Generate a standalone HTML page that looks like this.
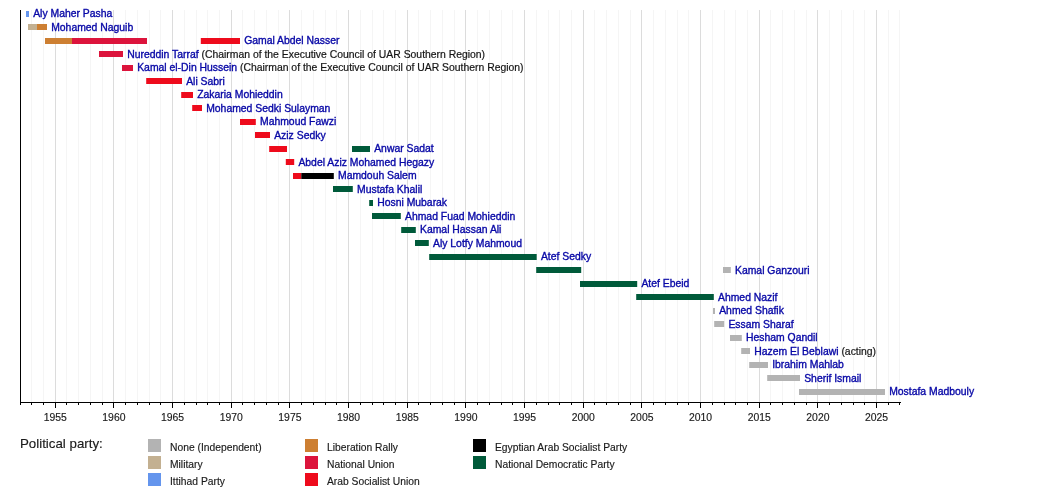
<!DOCTYPE html><html><head><meta charset="utf-8"><style>html,body{margin:0;padding:0;background:#fff;width:1050px;height:492px;overflow:hidden}svg{display:block;will-change:transform}text{font-family:"Liberation Sans",sans-serif}</style></head><body>
<svg width="1050" height="492" viewBox="0 0 1050 492">
<line x1="20.5" y1="10" x2="20.5" y2="402" stroke="#f5f5f5"/>
<line x1="31.5" y1="10" x2="31.5" y2="402" stroke="#f5f5f5"/>
<line x1="43.5" y1="10" x2="43.5" y2="402" stroke="#f5f5f5"/>
<line x1="66.5" y1="10" x2="66.5" y2="402" stroke="#f5f5f5"/>
<line x1="78.5" y1="10" x2="78.5" y2="402" stroke="#f5f5f5"/>
<line x1="90.5" y1="10" x2="90.5" y2="402" stroke="#f5f5f5"/>
<line x1="102.5" y1="10" x2="102.5" y2="402" stroke="#f5f5f5"/>
<line x1="125.5" y1="10" x2="125.5" y2="402" stroke="#f5f5f5"/>
<line x1="137.5" y1="10" x2="137.5" y2="402" stroke="#f5f5f5"/>
<line x1="149.5" y1="10" x2="149.5" y2="402" stroke="#f5f5f5"/>
<line x1="160.5" y1="10" x2="160.5" y2="402" stroke="#f5f5f5"/>
<line x1="184.5" y1="10" x2="184.5" y2="402" stroke="#f5f5f5"/>
<line x1="196.5" y1="10" x2="196.5" y2="402" stroke="#f5f5f5"/>
<line x1="207.5" y1="10" x2="207.5" y2="402" stroke="#f5f5f5"/>
<line x1="219.5" y1="10" x2="219.5" y2="402" stroke="#f5f5f5"/>
<line x1="242.5" y1="10" x2="242.5" y2="402" stroke="#f5f5f5"/>
<line x1="254.5" y1="10" x2="254.5" y2="402" stroke="#f5f5f5"/>
<line x1="266.5" y1="10" x2="266.5" y2="402" stroke="#f5f5f5"/>
<line x1="278.5" y1="10" x2="278.5" y2="402" stroke="#f5f5f5"/>
<line x1="301.5" y1="10" x2="301.5" y2="402" stroke="#f5f5f5"/>
<line x1="313.5" y1="10" x2="313.5" y2="402" stroke="#f5f5f5"/>
<line x1="325.5" y1="10" x2="325.5" y2="402" stroke="#f5f5f5"/>
<line x1="336.5" y1="10" x2="336.5" y2="402" stroke="#f5f5f5"/>
<line x1="360.5" y1="10" x2="360.5" y2="402" stroke="#f5f5f5"/>
<line x1="372.5" y1="10" x2="372.5" y2="402" stroke="#f5f5f5"/>
<line x1="383.5" y1="10" x2="383.5" y2="402" stroke="#f5f5f5"/>
<line x1="395.5" y1="10" x2="395.5" y2="402" stroke="#f5f5f5"/>
<line x1="418.5" y1="10" x2="418.5" y2="402" stroke="#f5f5f5"/>
<line x1="430.5" y1="10" x2="430.5" y2="402" stroke="#f5f5f5"/>
<line x1="442.5" y1="10" x2="442.5" y2="402" stroke="#f5f5f5"/>
<line x1="454.5" y1="10" x2="454.5" y2="402" stroke="#f5f5f5"/>
<line x1="477.5" y1="10" x2="477.5" y2="402" stroke="#f5f5f5"/>
<line x1="489.5" y1="10" x2="489.5" y2="402" stroke="#f5f5f5"/>
<line x1="501.5" y1="10" x2="501.5" y2="402" stroke="#f5f5f5"/>
<line x1="512.5" y1="10" x2="512.5" y2="402" stroke="#f5f5f5"/>
<line x1="536.5" y1="10" x2="536.5" y2="402" stroke="#f5f5f5"/>
<line x1="548.5" y1="10" x2="548.5" y2="402" stroke="#f5f5f5"/>
<line x1="559.5" y1="10" x2="559.5" y2="402" stroke="#f5f5f5"/>
<line x1="571.5" y1="10" x2="571.5" y2="402" stroke="#f5f5f5"/>
<line x1="594.5" y1="10" x2="594.5" y2="402" stroke="#f5f5f5"/>
<line x1="606.5" y1="10" x2="606.5" y2="402" stroke="#f5f5f5"/>
<line x1="618.5" y1="10" x2="618.5" y2="402" stroke="#f5f5f5"/>
<line x1="630.5" y1="10" x2="630.5" y2="402" stroke="#f5f5f5"/>
<line x1="653.5" y1="10" x2="653.5" y2="402" stroke="#f5f5f5"/>
<line x1="665.5" y1="10" x2="665.5" y2="402" stroke="#f5f5f5"/>
<line x1="677.5" y1="10" x2="677.5" y2="402" stroke="#f5f5f5"/>
<line x1="688.5" y1="10" x2="688.5" y2="402" stroke="#f5f5f5"/>
<line x1="712.5" y1="10" x2="712.5" y2="402" stroke="#f5f5f5"/>
<line x1="724.5" y1="10" x2="724.5" y2="402" stroke="#f5f5f5"/>
<line x1="735.5" y1="10" x2="735.5" y2="402" stroke="#f5f5f5"/>
<line x1="747.5" y1="10" x2="747.5" y2="402" stroke="#f5f5f5"/>
<line x1="770.5" y1="10" x2="770.5" y2="402" stroke="#f5f5f5"/>
<line x1="782.5" y1="10" x2="782.5" y2="402" stroke="#f5f5f5"/>
<line x1="794.5" y1="10" x2="794.5" y2="402" stroke="#f5f5f5"/>
<line x1="806.5" y1="10" x2="806.5" y2="402" stroke="#f5f5f5"/>
<line x1="829.5" y1="10" x2="829.5" y2="402" stroke="#f5f5f5"/>
<line x1="841.5" y1="10" x2="841.5" y2="402" stroke="#f5f5f5"/>
<line x1="853.5" y1="10" x2="853.5" y2="402" stroke="#f5f5f5"/>
<line x1="864.5" y1="10" x2="864.5" y2="402" stroke="#f5f5f5"/>
<line x1="888.5" y1="10" x2="888.5" y2="402" stroke="#f5f5f5"/>
<line x1="899.5" y1="10" x2="899.5" y2="402" stroke="#f5f5f5"/>
<line x1="55.5" y1="10" x2="55.5" y2="402" stroke="#dcdcdc"/>
<line x1="113.5" y1="10" x2="113.5" y2="402" stroke="#dcdcdc"/>
<line x1="172.5" y1="10" x2="172.5" y2="402" stroke="#dcdcdc"/>
<line x1="231.5" y1="10" x2="231.5" y2="402" stroke="#dcdcdc"/>
<line x1="289.5" y1="10" x2="289.5" y2="402" stroke="#dcdcdc"/>
<line x1="348.5" y1="10" x2="348.5" y2="402" stroke="#dcdcdc"/>
<line x1="407.5" y1="10" x2="407.5" y2="402" stroke="#dcdcdc"/>
<line x1="465.5" y1="10" x2="465.5" y2="402" stroke="#dcdcdc"/>
<line x1="524.5" y1="10" x2="524.5" y2="402" stroke="#dcdcdc"/>
<line x1="583.5" y1="10" x2="583.5" y2="402" stroke="#dcdcdc"/>
<line x1="641.5" y1="10" x2="641.5" y2="402" stroke="#dcdcdc"/>
<line x1="700.5" y1="10" x2="700.5" y2="402" stroke="#dcdcdc"/>
<line x1="759.5" y1="10" x2="759.5" y2="402" stroke="#dcdcdc"/>
<line x1="817.5" y1="10" x2="817.5" y2="402" stroke="#dcdcdc"/>
<line x1="876.5" y1="10" x2="876.5" y2="402" stroke="#dcdcdc"/>
<rect x="26" y="11" width="3.00" height="6" fill="#6495ed"/>
<text x="33.2" y="17.3" font-size="10.4" fill="#0707a6" stroke="#0707a6" stroke-width="0.35">Aly Maher Pasha</text>
<rect x="28" y="24" width="9.00" height="6" fill="#c3b091"/>
<rect x="37" y="24" width="10.00" height="6" fill="#cd7f32"/>
<text x="51.2" y="30.8" font-size="10.4" fill="#0707a6" stroke="#0707a6" stroke-width="0.35">Mohamed Naguib</text>
<rect x="45" y="38" width="27.00" height="6" fill="#cd7f32"/>
<rect x="72" y="38" width="75.00" height="6" fill="#dc143c"/>
<rect x="200.8" y="38" width="39.20" height="6" fill="#ee0b1c"/>
<text x="244.2" y="44.3" font-size="10.4" fill="#0707a6" stroke="#0707a6" stroke-width="0.35">Gamal Abdel Nasser</text>
<rect x="99" y="51" width="24.00" height="6" fill="#dc143c"/>
<text x="127.2" y="57.8" font-size="10.4" fill="#0707a6" stroke="#0707a6" stroke-width="0.35">Nureddin Tarraf<tspan fill="#151515" stroke="#151515" stroke-width="0.2"> (Chairman of the Executive Council of UAR Southern Region)</tspan></text>
<rect x="122" y="65" width="11.00" height="6" fill="#dc143c"/>
<text x="137.2" y="71.3" font-size="10.4" fill="#0707a6" stroke="#0707a6" stroke-width="0.35">Kamal el-Din Hussein<tspan fill="#151515" stroke="#151515" stroke-width="0.2"> (Chairman of the Executive Council of UAR Southern Region)</tspan></text>
<rect x="146.2" y="78" width="35.80" height="6" fill="#ee0b1c"/>
<text x="186.2" y="84.8" font-size="10.4" fill="#0707a6" stroke="#0707a6" stroke-width="0.35">Ali Sabri</text>
<rect x="181.2" y="92" width="11.80" height="6" fill="#ee0b1c"/>
<text x="197.2" y="98.3" font-size="10.4" fill="#0707a6" stroke="#0707a6" stroke-width="0.35">Zakaria Mohieddin</text>
<rect x="192.2" y="105" width="9.80" height="6" fill="#ee0b1c"/>
<text x="206.2" y="111.8" font-size="10.4" fill="#0707a6" stroke="#0707a6" stroke-width="0.35">Mohamed Sedki Sulayman</text>
<rect x="240" y="119" width="15.80" height="6" fill="#ee0b1c"/>
<text x="260.0" y="125.3" font-size="10.4" fill="#0707a6" stroke="#0707a6" stroke-width="0.35">Mahmoud Fawzi</text>
<rect x="255" y="132" width="15.00" height="6" fill="#ee0b1c"/>
<text x="274.2" y="138.8" font-size="10.4" fill="#0707a6" stroke="#0707a6" stroke-width="0.35">Aziz Sedky</text>
<rect x="269.2" y="146" width="17.80" height="6" fill="#ee0b1c"/>
<rect x="352" y="146" width="18.00" height="6" fill="#005a3a"/>
<text x="374.2" y="152.3" font-size="10.4" fill="#0707a6" stroke="#0707a6" stroke-width="0.35">Anwar Sadat</text>
<rect x="285.8" y="159" width="8.40" height="6" fill="#ee0b1c"/>
<text x="298.4" y="165.8" font-size="10.4" fill="#0707a6" stroke="#0707a6" stroke-width="0.35">Abdel Aziz Mohamed Hegazy</text>
<rect x="293" y="173" width="8.30" height="6" fill="#ee0b1c"/>
<rect x="301.3" y="173" width="32.50" height="6" fill="#000000"/>
<text x="338.0" y="179.3" font-size="10.4" fill="#0707a6" stroke="#0707a6" stroke-width="0.35">Mamdouh Salem</text>
<rect x="333" y="186" width="19.80" height="6" fill="#005a3a"/>
<text x="357.0" y="192.8" font-size="10.4" fill="#0707a6" stroke="#0707a6" stroke-width="0.35">Mustafa Khalil</text>
<rect x="369.2" y="200" width="3.80" height="6" fill="#005a3a"/>
<text x="377.2" y="206.3" font-size="10.4" fill="#0707a6" stroke="#0707a6" stroke-width="0.35">Hosni Mubarak</text>
<rect x="372" y="213" width="28.80" height="6" fill="#005a3a"/>
<text x="405.0" y="219.8" font-size="10.4" fill="#0707a6" stroke="#0707a6" stroke-width="0.35">Ahmad Fuad Mohieddin</text>
<rect x="401.2" y="227" width="14.60" height="6" fill="#005a3a"/>
<text x="420.0" y="233.3" font-size="10.4" fill="#0707a6" stroke="#0707a6" stroke-width="0.35">Kamal Hassan Ali</text>
<rect x="415" y="240" width="13.80" height="6" fill="#005a3a"/>
<text x="433.0" y="246.8" font-size="10.4" fill="#0707a6" stroke="#0707a6" stroke-width="0.35">Aly Lotfy Mahmoud</text>
<rect x="429.2" y="254" width="107.50" height="6" fill="#005a3a"/>
<text x="540.9" y="260.3" font-size="10.4" fill="#0707a6" stroke="#0707a6" stroke-width="0.35">Atef Sedky</text>
<rect x="536.2" y="267" width="45.00" height="6" fill="#005a3a"/>
<rect x="723" y="267" width="7.80" height="6" fill="#b3b3b3"/>
<text x="735.0" y="273.8" font-size="10.4" fill="#0707a6" stroke="#0707a6" stroke-width="0.35">Kamal Ganzouri</text>
<rect x="580" y="281" width="57.20" height="6" fill="#005a3a"/>
<text x="641.4" y="287.3" font-size="10.4" fill="#0707a6" stroke="#0707a6" stroke-width="0.35">Atef Ebeid</text>
<rect x="636.2" y="294" width="77.60" height="6" fill="#005a3a"/>
<text x="718.0" y="300.8" font-size="10.4" fill="#0707a6" stroke="#0707a6" stroke-width="0.35">Ahmed Nazif</text>
<rect x="713" y="308" width="2.00" height="6" fill="#b3b3b3"/>
<text x="719.2" y="314.3" font-size="10.4" fill="#0707a6" stroke="#0707a6" stroke-width="0.35">Ahmed Shafik</text>
<rect x="714.2" y="321" width="10.00" height="6" fill="#b3b3b3"/>
<text x="728.4" y="327.8" font-size="10.4" fill="#0707a6" stroke="#0707a6" stroke-width="0.35">Essam Sharaf</text>
<rect x="730" y="335" width="11.80" height="6" fill="#b3b3b3"/>
<text x="746.0" y="341.3" font-size="10.4" fill="#0707a6" stroke="#0707a6" stroke-width="0.35">Hesham Qandil</text>
<rect x="741.2" y="348" width="8.80" height="6" fill="#b3b3b3"/>
<text x="754.2" y="354.8" font-size="10.4" fill="#0707a6" stroke="#0707a6" stroke-width="0.35">Hazem El Beblawi<tspan fill="#151515" stroke="#151515" stroke-width="0.2"> (acting)</tspan></text>
<rect x="749.2" y="362" width="18.80" height="6" fill="#b3b3b3"/>
<text x="772.2" y="368.3" font-size="10.4" fill="#0707a6" stroke="#0707a6" stroke-width="0.35">Ibrahim Mahlab</text>
<rect x="767.2" y="375" width="32.80" height="6" fill="#b3b3b3"/>
<text x="804.2" y="381.8" font-size="10.4" fill="#0707a6" stroke="#0707a6" stroke-width="0.35">Sherif Ismail</text>
<rect x="799" y="389" width="86.00" height="6" fill="#b3b3b3"/>
<text x="889.2" y="395.3" font-size="10.4" fill="#0707a6" stroke="#0707a6" stroke-width="0.35">Mostafa Madbouly</text>
<line x1="20.5" y1="10" x2="20.5" y2="403" stroke="#000"/>
<line x1="20" y1="402.5" x2="901" y2="402.5" stroke="#000"/>
<line x1="20.5" y1="402" x2="20.5" y2="405" stroke="#000"/>
<line x1="31.5" y1="402" x2="31.5" y2="405" stroke="#000"/>
<line x1="43.5" y1="402" x2="43.5" y2="405" stroke="#000"/>
<line x1="55.5" y1="402" x2="55.5" y2="408" stroke="#000"/>
<line x1="66.5" y1="402" x2="66.5" y2="405" stroke="#000"/>
<line x1="78.5" y1="402" x2="78.5" y2="405" stroke="#000"/>
<line x1="90.5" y1="402" x2="90.5" y2="405" stroke="#000"/>
<line x1="102.5" y1="402" x2="102.5" y2="405" stroke="#000"/>
<line x1="113.5" y1="402" x2="113.5" y2="408" stroke="#000"/>
<line x1="125.5" y1="402" x2="125.5" y2="405" stroke="#000"/>
<line x1="137.5" y1="402" x2="137.5" y2="405" stroke="#000"/>
<line x1="149.5" y1="402" x2="149.5" y2="405" stroke="#000"/>
<line x1="160.5" y1="402" x2="160.5" y2="405" stroke="#000"/>
<line x1="172.5" y1="402" x2="172.5" y2="408" stroke="#000"/>
<line x1="184.5" y1="402" x2="184.5" y2="405" stroke="#000"/>
<line x1="196.5" y1="402" x2="196.5" y2="405" stroke="#000"/>
<line x1="207.5" y1="402" x2="207.5" y2="405" stroke="#000"/>
<line x1="219.5" y1="402" x2="219.5" y2="405" stroke="#000"/>
<line x1="231.5" y1="402" x2="231.5" y2="408" stroke="#000"/>
<line x1="242.5" y1="402" x2="242.5" y2="405" stroke="#000"/>
<line x1="254.5" y1="402" x2="254.5" y2="405" stroke="#000"/>
<line x1="266.5" y1="402" x2="266.5" y2="405" stroke="#000"/>
<line x1="278.5" y1="402" x2="278.5" y2="405" stroke="#000"/>
<line x1="289.5" y1="402" x2="289.5" y2="408" stroke="#000"/>
<line x1="301.5" y1="402" x2="301.5" y2="405" stroke="#000"/>
<line x1="313.5" y1="402" x2="313.5" y2="405" stroke="#000"/>
<line x1="325.5" y1="402" x2="325.5" y2="405" stroke="#000"/>
<line x1="336.5" y1="402" x2="336.5" y2="405" stroke="#000"/>
<line x1="348.5" y1="402" x2="348.5" y2="408" stroke="#000"/>
<line x1="360.5" y1="402" x2="360.5" y2="405" stroke="#000"/>
<line x1="372.5" y1="402" x2="372.5" y2="405" stroke="#000"/>
<line x1="383.5" y1="402" x2="383.5" y2="405" stroke="#000"/>
<line x1="395.5" y1="402" x2="395.5" y2="405" stroke="#000"/>
<line x1="407.5" y1="402" x2="407.5" y2="408" stroke="#000"/>
<line x1="418.5" y1="402" x2="418.5" y2="405" stroke="#000"/>
<line x1="430.5" y1="402" x2="430.5" y2="405" stroke="#000"/>
<line x1="442.5" y1="402" x2="442.5" y2="405" stroke="#000"/>
<line x1="454.5" y1="402" x2="454.5" y2="405" stroke="#000"/>
<line x1="465.5" y1="402" x2="465.5" y2="408" stroke="#000"/>
<line x1="477.5" y1="402" x2="477.5" y2="405" stroke="#000"/>
<line x1="489.5" y1="402" x2="489.5" y2="405" stroke="#000"/>
<line x1="501.5" y1="402" x2="501.5" y2="405" stroke="#000"/>
<line x1="512.5" y1="402" x2="512.5" y2="405" stroke="#000"/>
<line x1="524.5" y1="402" x2="524.5" y2="408" stroke="#000"/>
<line x1="536.5" y1="402" x2="536.5" y2="405" stroke="#000"/>
<line x1="548.5" y1="402" x2="548.5" y2="405" stroke="#000"/>
<line x1="559.5" y1="402" x2="559.5" y2="405" stroke="#000"/>
<line x1="571.5" y1="402" x2="571.5" y2="405" stroke="#000"/>
<line x1="583.5" y1="402" x2="583.5" y2="408" stroke="#000"/>
<line x1="594.5" y1="402" x2="594.5" y2="405" stroke="#000"/>
<line x1="606.5" y1="402" x2="606.5" y2="405" stroke="#000"/>
<line x1="618.5" y1="402" x2="618.5" y2="405" stroke="#000"/>
<line x1="630.5" y1="402" x2="630.5" y2="405" stroke="#000"/>
<line x1="641.5" y1="402" x2="641.5" y2="408" stroke="#000"/>
<line x1="653.5" y1="402" x2="653.5" y2="405" stroke="#000"/>
<line x1="665.5" y1="402" x2="665.5" y2="405" stroke="#000"/>
<line x1="677.5" y1="402" x2="677.5" y2="405" stroke="#000"/>
<line x1="688.5" y1="402" x2="688.5" y2="405" stroke="#000"/>
<line x1="700.5" y1="402" x2="700.5" y2="408" stroke="#000"/>
<line x1="712.5" y1="402" x2="712.5" y2="405" stroke="#000"/>
<line x1="724.5" y1="402" x2="724.5" y2="405" stroke="#000"/>
<line x1="735.5" y1="402" x2="735.5" y2="405" stroke="#000"/>
<line x1="747.5" y1="402" x2="747.5" y2="405" stroke="#000"/>
<line x1="759.5" y1="402" x2="759.5" y2="408" stroke="#000"/>
<line x1="770.5" y1="402" x2="770.5" y2="405" stroke="#000"/>
<line x1="782.5" y1="402" x2="782.5" y2="405" stroke="#000"/>
<line x1="794.5" y1="402" x2="794.5" y2="405" stroke="#000"/>
<line x1="806.5" y1="402" x2="806.5" y2="405" stroke="#000"/>
<line x1="817.5" y1="402" x2="817.5" y2="408" stroke="#000"/>
<line x1="829.5" y1="402" x2="829.5" y2="405" stroke="#000"/>
<line x1="841.5" y1="402" x2="841.5" y2="405" stroke="#000"/>
<line x1="853.5" y1="402" x2="853.5" y2="405" stroke="#000"/>
<line x1="864.5" y1="402" x2="864.5" y2="405" stroke="#000"/>
<line x1="876.5" y1="402" x2="876.5" y2="408" stroke="#000"/>
<line x1="888.5" y1="402" x2="888.5" y2="405" stroke="#000"/>
<line x1="899.5" y1="402" x2="899.5" y2="405" stroke="#000"/>
<text x="55.2" y="420.6" font-size="10.4" fill="#1a1a1a" stroke="#1a1a1a" stroke-width="0.15" text-anchor="middle">1955</text>
<text x="113.9" y="420.6" font-size="10.4" fill="#1a1a1a" stroke="#1a1a1a" stroke-width="0.15" text-anchor="middle">1960</text>
<text x="172.5" y="420.6" font-size="10.4" fill="#1a1a1a" stroke="#1a1a1a" stroke-width="0.15" text-anchor="middle">1965</text>
<text x="231.2" y="420.6" font-size="10.4" fill="#1a1a1a" stroke="#1a1a1a" stroke-width="0.15" text-anchor="middle">1970</text>
<text x="289.9" y="420.6" font-size="10.4" fill="#1a1a1a" stroke="#1a1a1a" stroke-width="0.15" text-anchor="middle">1975</text>
<text x="348.5" y="420.6" font-size="10.4" fill="#1a1a1a" stroke="#1a1a1a" stroke-width="0.15" text-anchor="middle">1980</text>
<text x="407.2" y="420.6" font-size="10.4" fill="#1a1a1a" stroke="#1a1a1a" stroke-width="0.15" text-anchor="middle">1985</text>
<text x="465.9" y="420.6" font-size="10.4" fill="#1a1a1a" stroke="#1a1a1a" stroke-width="0.15" text-anchor="middle">1990</text>
<text x="524.5" y="420.6" font-size="10.4" fill="#1a1a1a" stroke="#1a1a1a" stroke-width="0.15" text-anchor="middle">1995</text>
<text x="583.2" y="420.6" font-size="10.4" fill="#1a1a1a" stroke="#1a1a1a" stroke-width="0.15" text-anchor="middle">2000</text>
<text x="641.9" y="420.6" font-size="10.4" fill="#1a1a1a" stroke="#1a1a1a" stroke-width="0.15" text-anchor="middle">2005</text>
<text x="700.5" y="420.6" font-size="10.4" fill="#1a1a1a" stroke="#1a1a1a" stroke-width="0.15" text-anchor="middle">2010</text>
<text x="759.2" y="420.6" font-size="10.4" fill="#1a1a1a" stroke="#1a1a1a" stroke-width="0.15" text-anchor="middle">2015</text>
<text x="817.9" y="420.6" font-size="10.4" fill="#1a1a1a" stroke="#1a1a1a" stroke-width="0.15" text-anchor="middle">2020</text>
<text x="876.5" y="420.6" font-size="10.4" fill="#1a1a1a" stroke="#1a1a1a" stroke-width="0.15" text-anchor="middle">2025</text>
<text x="20" y="448" font-size="13.3" fill="#1a1a1a" stroke="#1a1a1a" stroke-width="0.15">Political party:</text>
<rect x="148" y="439" width="13" height="13" fill="#b3b3b3"/>
<text x="170" y="451" font-size="10.3" fill="#1a1a1a" stroke="#1a1a1a" stroke-width="0.15">None (Independent)</text>
<rect x="148" y="456" width="13" height="13" fill="#c3b091"/>
<text x="170" y="468" font-size="10.3" fill="#1a1a1a" stroke="#1a1a1a" stroke-width="0.15">Military</text>
<rect x="148" y="473" width="13" height="13" fill="#6495ed"/>
<text x="170" y="485" font-size="10.3" fill="#1a1a1a" stroke="#1a1a1a" stroke-width="0.15">Ittihad Party</text>
<rect x="305" y="439" width="13" height="13" fill="#cd7f32"/>
<text x="327" y="451" font-size="10.3" fill="#1a1a1a" stroke="#1a1a1a" stroke-width="0.15">Liberation Rally</text>
<rect x="305" y="456" width="13" height="13" fill="#dc143c"/>
<text x="327" y="468" font-size="10.3" fill="#1a1a1a" stroke="#1a1a1a" stroke-width="0.15">National Union</text>
<rect x="305" y="473" width="13" height="13" fill="#ee0b1c"/>
<text x="327" y="485" font-size="10.3" fill="#1a1a1a" stroke="#1a1a1a" stroke-width="0.15">Arab Socialist Union</text>
<rect x="473" y="439" width="13" height="13" fill="#000000"/>
<text x="495" y="451" font-size="10.3" fill="#1a1a1a" stroke="#1a1a1a" stroke-width="0.15">Egyptian Arab Socialist Party</text>
<rect x="473" y="456" width="13" height="13" fill="#005a3a"/>
<text x="495" y="468" font-size="10.3" fill="#1a1a1a" stroke="#1a1a1a" stroke-width="0.15">National Democratic Party</text>
</svg></body></html>
